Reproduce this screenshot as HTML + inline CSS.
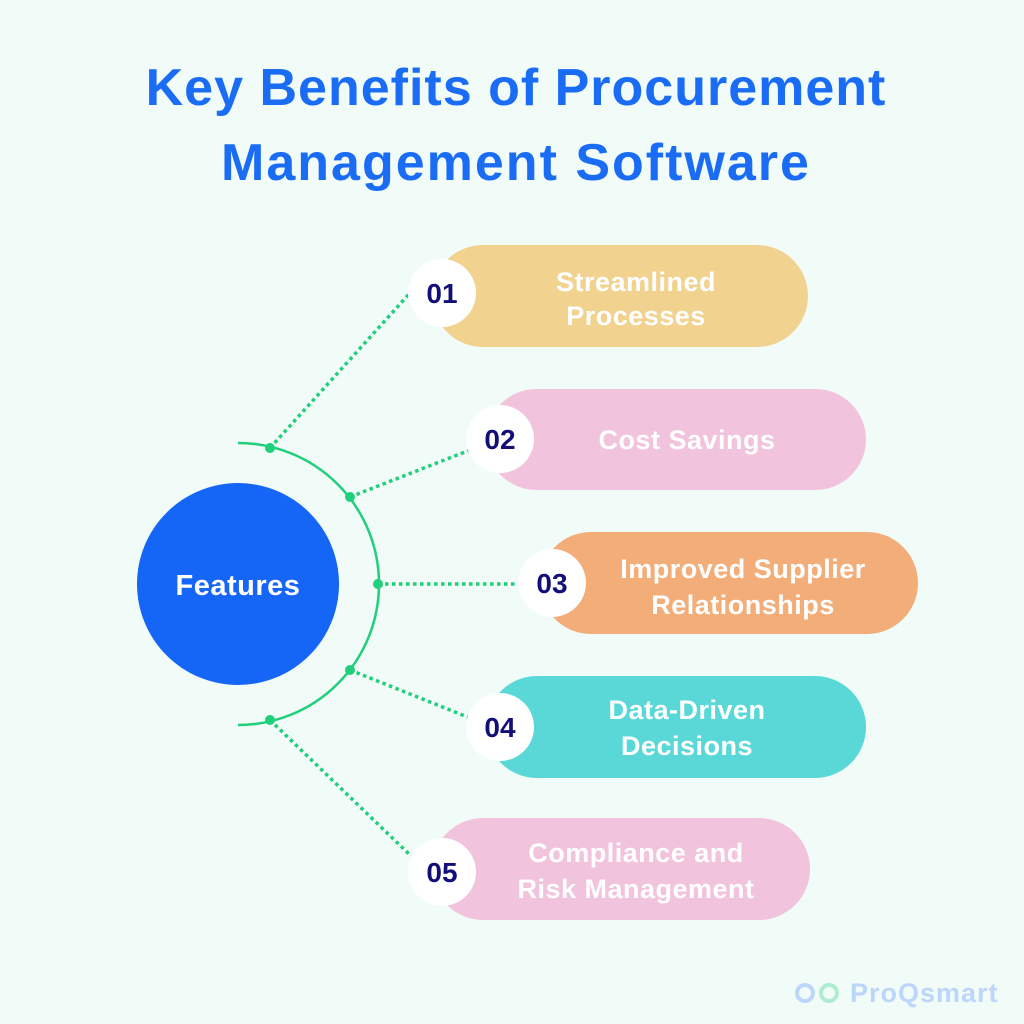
<!DOCTYPE html>
<html><head><style>
html,body{margin:0;padding:0;background:#f1fbf7;}
svg{display:block}
text{font-family:"Liberation Sans",sans-serif;font-weight:bold}
</style></head><body>
<svg width="1024" height="1024" viewBox="0 0 1024 1024">
<rect width="1024" height="1024" fill="#f1fbf7"/>
<text x="516" y="105" text-anchor="middle" font-size="52" letter-spacing="1" fill="#1a6cf5">Key Benefits of Procurement</text>
<text x="516" y="180" text-anchor="middle" font-size="52" letter-spacing="2" fill="#1a6cf5">Management Software</text>

<circle cx="238" cy="584" r="101" fill="#1566f7"/>
<text x="238" y="595" text-anchor="middle" font-size="29" letter-spacing="0.5" fill="#fff">Features</text>

<path d="M238 443 A141 141 0 0 1 238 725" fill="none" stroke="#1fcf7b" stroke-width="2.5"/>
<g stroke="#1fcf7b" stroke-width="3.5" stroke-dasharray="3.5 3.5" fill="none">
<line x1="270" y1="448" x2="410" y2="293"/>
<line x1="350" y1="497" x2="470" y2="450"/>
<line x1="378" y1="584" x2="518" y2="584"/>
<line x1="350" y1="670" x2="470" y2="718"/>
<line x1="270" y1="720" x2="410" y2="855"/>
</g>
<g fill="#1fcf7b">
<circle cx="270" cy="448" r="5"/><circle cx="350" cy="497" r="5"/><circle cx="378" cy="584" r="5"/><circle cx="350" cy="670" r="5"/><circle cx="270" cy="720" r="5"/>
</g>

<rect x="432" y="245" width="376" height="102" rx="51" fill="#f2d28f"/>
<rect x="486" y="389" width="380" height="101" rx="50.5" fill="#f2c3dc"/>
<rect x="540" y="532" width="378" height="102" rx="51" fill="#f2ad78"/>
<rect x="486" y="676" width="380" height="102" rx="51" fill="#5ad8d8"/>
<rect x="432" y="818" width="378" height="102" rx="51" fill="#f2c3dc"/>

<g fill="#fff">
<circle cx="442" cy="293" r="34"/><circle cx="500" cy="439" r="34"/><circle cx="552" cy="583" r="34"/><circle cx="500" cy="727" r="34"/><circle cx="442" cy="872" r="34"/>
</g>
<g font-size="28" fill="#130f78" text-anchor="middle">
<text x="442" y="303">01</text><text x="500" y="449">02</text><text x="552" y="593">03</text><text x="500" y="737">04</text><text x="442" y="882">05</text>
</g>
<g font-size="27" letter-spacing="0.5" fill="#fff" text-anchor="middle">
<text x="636" y="291">Streamlined</text><text x="636" y="325">Processes</text>
<text x="687" y="449">Cost Savings</text>
<text x="743" y="578">Improved Supplier</text><text x="743" y="614">Relationships</text>
<text x="687" y="719">Data-Driven</text><text x="687" y="755">Decisions</text>
<text x="636" y="862">Compliance and</text><text x="636" y="898">Risk Management</text>
</g>

<g opacity="0.9">
<circle cx="805" cy="993" r="8" fill="none" stroke="#b7d2fb" stroke-width="4"/>
<circle cx="829" cy="993" r="8" fill="none" stroke="#a8ebcd" stroke-width="4"/>
<text x="850" y="1002" font-size="27" font-weight="normal" letter-spacing="1" fill="#b7d2fb">ProQsmart</text>
</g>
</svg>
</body></html>
